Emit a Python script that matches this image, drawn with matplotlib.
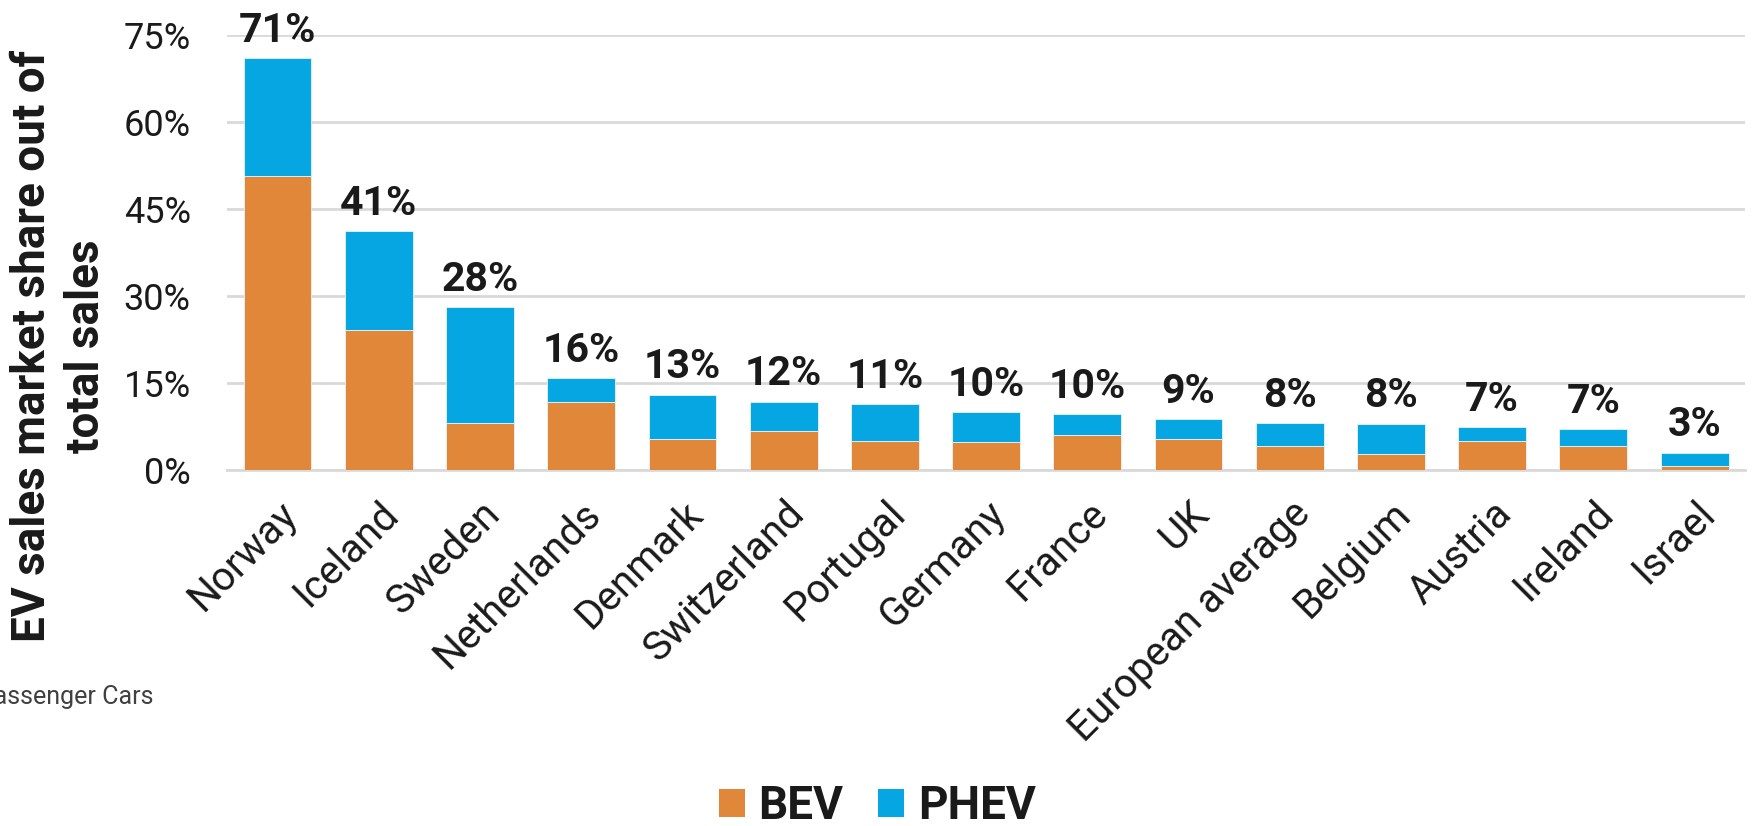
import matplotlib
matplotlib.use("Agg")
import matplotlib.pyplot as plt
from matplotlib.patches import Patch

plt.rcParams["font.family"] = ["Roboto", "DejaVu Sans"]

# ── Data (share of total passenger car sales, %) ─────────────────────────────
countries = ["Norway", "Iceland", "Sweden", "Netherlands", "Denmark",
             "Switzerland", "Portugal", "Germany", "France", "UK",
             "European average", "Belgium", "Austria", "Ireland", "Israel"]
bev  = [50.6, 24.2, 8.1, 11.7, 5.4, 6.8, 5.0, 4.9, 6.1, 5.4, 4.2, 2.8, 5.0, 4.2, 0.7]
phev = [20.3, 17.0, 19.9, 4.1, 7.6, 5.0, 6.4, 5.1, 3.5, 3.4, 3.9, 5.2, 2.4, 2.9, 2.3]
yticks = [0, 15, 30, 45, 60, 75]

BEV_COLOR  = "#E0873A"
PHEV_COLOR = "#05A6E2"
TEXT       = "#1A1A1A"
GRID       = "#D9D9D9"

fig = plt.figure(figsize=(17.54, 8.26), dpi=100)
ax = fig.add_axes([0.1294, 0.431, 0.8656, 0.527])

x = range(len(countries))
ax.bar(x, bev, width=0.67, color=BEV_COLOR, edgecolor="#F3F3F3", linewidth=0.6, zorder=3)
ax.bar(x, phev, width=0.67, bottom=bev, color=PHEV_COLOR, edgecolor="#E8F4FA",
       linewidth=0.6, zorder=3)

# total labels above each stack
for i, (b, p) in enumerate(zip(bev, phev)):
    tot = b + p
    ax.text(i, tot + 2.8, f"{round(tot):.0f}%", ha="center", va="baseline",
            fontsize=29.5, fontweight="bold", color=TEXT, clip_on=False)

ax.set_xlim(-0.5, len(countries) - 0.5)
ax.set_ylim(0, 75)
ax.set_yticks(yticks)
ax.set_yticklabels([f"{v}%" for v in yticks], fontsize=26, color=TEXT)
ax.yaxis.grid(True, color=GRID, linewidth=2, zorder=0)
ax.set_axisbelow(True)
ax.tick_params(axis="y", length=0, pad=26)
ax.tick_params(axis="x", length=0, pad=17)
ax.set_xticks(list(x))
ax.set_xticklabels(countries, rotation=45, ha="right", rotation_mode="anchor",
                   fontsize=29, color=TEXT)
for s in ["top", "right", "left"]:
    ax.spines[s].set_visible(False)
ax.spines["bottom"].set_color(GRID)
ax.spines["bottom"].set_linewidth(2)

fig.text(0.0335, 0.581, "EV sales market share out of\ntotal sales", rotation=90,
         ha="center", va="center", fontsize=33, fontweight="bold", color=TEXT,
         linespacing=1.3, multialignment="center")

fig.text(0.0875, 0.156, "Passenger Cars", ha="right", va="center",
         fontsize=18, color="#404040")

handles = [Patch(facecolor=BEV_COLOR, label="BEV"),
           Patch(facecolor=PHEV_COLOR, label="PHEV")]
leg = fig.legend(handles=handles, loc="center", bbox_to_anchor=(0.5, 0.024),
                 ncol=2, frameon=False, handlelength=0.57, handleheight=0.57,
                 handletextpad=0.3, columnspacing=0.75,
                 prop={"size": 33, "weight": "bold"})
for t in leg.get_texts():
    t.set_color(TEXT)

fig.savefig("out.png", dpi=100)
